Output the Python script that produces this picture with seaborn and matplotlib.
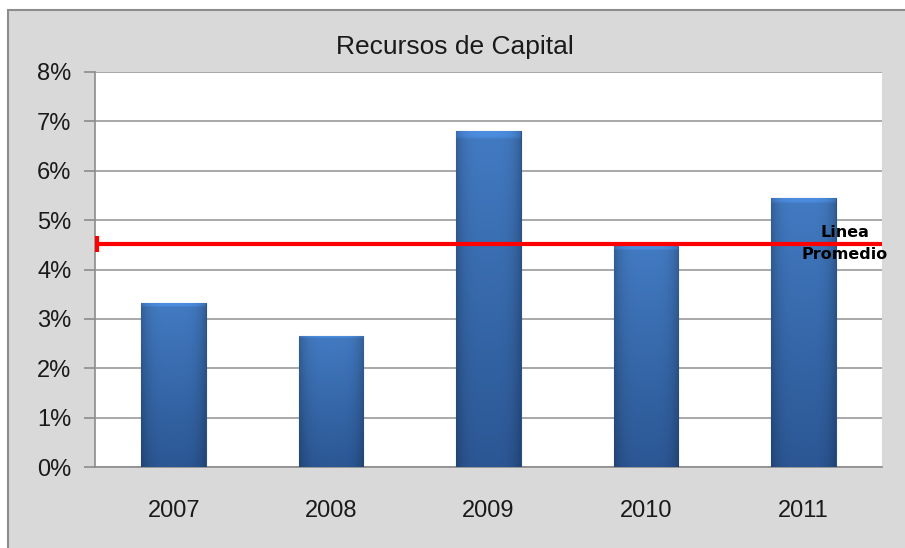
import numpy as np
import pandas as pd
import seaborn as sns
import matplotlib.pyplot as plt
from matplotlib.patches import Rectangle
from matplotlib.ticker import FuncFormatter, FixedLocator

# Datos
anios = ["2007", "2008", "2009", "2010", "2011"]
recursos = [3.32, 2.66, 6.80, 4.48, 5.45]
promedio = 4.52
etiqueta_promedio = "Linea\nPromedio"

df = pd.DataFrame({"anio": anios, "valor": recursos})

sns.set_style("white")
plt.rcParams["font.family"] = ["Liberation Sans", "DejaVu Sans"]

fig = plt.figure(figsize=(9.05, 5.48), dpi=100, facecolor="white")
# Marco gris de fondo (estilo Excel)
fig.patches.append(Rectangle((8 / 905, -0.01), 1.0, 1 - 10 / 548 + 0.01,
                             transform=fig.transFigure, facecolor="#D9D9D9",
                             edgecolor="#8C8C8C", linewidth=1.5, zorder=-10))

ax = fig.add_axes([95 / 905, 81 / 548, 787 / 905, 395 / 548])
ax.set_facecolor("white")

sns.barplot(data=df, x="anio", y="valor", color="#3C6EAF", width=0.41,
            saturation=1, ax=ax, zorder=3)

# Degradado en las barras
grad_x = np.linspace(-1, 1, 64)
perfil = 1 - 0.22 * np.abs(grad_x) ** 4
base = np.array([0.26, 0.48, 0.76])
oscuro = np.array([0.17, 0.34, 0.58])
for p in ax.patches:
    x0, y0 = p.get_x(), p.get_y()
    w, h = p.get_width(), p.get_height()
    filas = np.linspace(1, 0, 100)[:, None]
    img = np.zeros((100, 64, 3))
    for k in range(3):
        vert = oscuro[k] + (base[k] - oscuro[k]) * filas
        img[:, :, k] = vert * perfil[None, :]
    # borde superior un poco más claro
    img[:2, :, :] = np.clip(img[:2, :, :] * 1.15, 0, 1)
    im = ax.imshow(img, extent=(x0, x0 + w, y0, y0 + h), aspect="auto",
                   zorder=3.5, interpolation="bilinear")
    im.set_clip_path(p)
    p.set_edgecolor("#2B5288")
    p.set_linewidth(0.8)

ax.set_xlim(-0.5, 4.5)
ax.set_ylim(0, 8)
ax.set_yticks(np.arange(0, 9, 1))
ax.yaxis.set_major_formatter(FuncFormatter(lambda v, _: f"{v:.0f}%"))
ax.grid(axis="y", color="#9A9A9A", linewidth=1.2, zorder=0)
ax.set_axisbelow(True)

# Ticks del eje x en los límites entre categorías
ax.xaxis.set_minor_locator(FixedLocator(np.arange(-0.5, 5, 1)))
ax.tick_params(axis="x", which="major", length=0, labelsize=17, pad=24,
               colors="#1A1A1A")
ax.tick_params(axis="x", which="minor", length=7, width=1.2, color="#8C8C8C",
               direction="out")
ax.tick_params(axis="y", length=8, width=1.2, color="#8C8C8C", labelsize=17,
               pad=9, left=True, labelcolor="#1A1A1A")

for s in ["top", "right"]:
    ax.spines[s].set_visible(False)
for s in ["left", "bottom"]:
    ax.spines[s].set_color("#8C8C8C")
    ax.spines[s].set_linewidth(1.2)
ax.set_xlabel("")
ax.set_ylabel("")

# Línea promedio
ax.plot([-0.49, 4.5], [promedio, promedio], color="#FF0000", linewidth=3,
        zorder=5)
ax.plot([-0.49], [promedio], marker="|", markersize=12, markeredgewidth=3,
        color="#FF0000", zorder=5)
ax.text(4.265, promedio, etiqueta_promedio, ha="center", va="center",
        fontsize=11.5, fontweight="bold", family="DejaVu Sans",
        linespacing=1.6, zorder=6, color="black")

fig.text(455 / 905, 1 - 47 / 548, "Recursos de Capital", ha="center",
         va="center", fontsize=19, color="#1A1A1A")

fig.savefig("out.png", dpi=100, facecolor=fig.get_facecolor())
